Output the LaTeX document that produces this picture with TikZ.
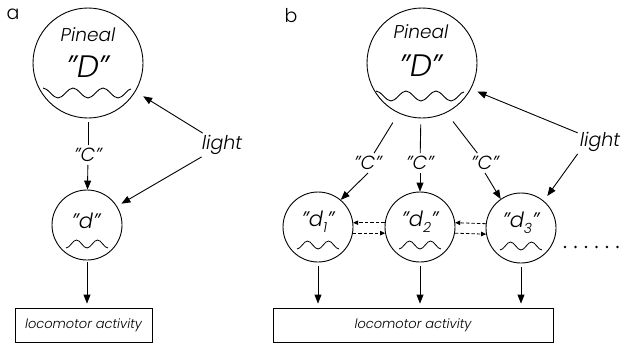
\documentclass[tikz,border=0pt]{standalone}
\usepackage{fontspec}
\setmainfont{Poppins}[UprightFont={* Light}, ItalicFont={* Light Italic}]
\usetikzlibrary{arrows.meta}

\tikzset{
  bigcirc/.style={draw, circle, line width=0.9pt, minimum size=110pt, inner sep=0pt},
  smallcirc/.style={draw, circle, line width=0.9pt, minimum size=70pt, inner sep=0pt},
  lbl/.style={font=\itshape\fontsize{18.5}{18.5}\selectfont, inner sep=1pt},
  bigD/.style={font=\itshape\fontsize{31}{31}\selectfont, inner sep=1pt},
  ctext/.style={font=\itshape\fontsize{19}{19}\selectfont, inner sep=3pt},
  dtext/.style={font=\itshape\fontsize{21}{21}\selectfont, inner sep=1pt},
  lighttext/.style={font=\itshape\fontsize{19}{19}\selectfont, inner sep=2pt},
  boxtext/.style={draw, line width=0.9pt, font=\itshape\fontsize{13}{13}\selectfont, inner sep=0pt},
  panel/.style={font=\fontsize{19}{19}\selectfont, inner sep=0pt},
  arr/.style={line width=0.9pt, -{Triangle[length=9pt,width=7pt]}},
  plain/.style={line width=0.9pt},
  darr/.style={line width=0.8pt, dash pattern=on 3.5pt off 2pt, -{Triangle[length=5pt,width=4.5pt]}},
  bigwave/.pic={\draw[line width=0.9pt] (-45,-5) cos (-37.5,0) sin (-30,5) cos (-22.5,0) sin (-15,-5)
      cos (-7.5,0) sin (0,5) cos (7.5,0) sin (15,-5) cos (22.5,0) sin (30,5) cos (37.5,0) sin (43,-4);},
  smallwave/.pic={\draw[line width=0.8pt] (-21,4) cos (-15.75,0) sin (-10.5,-4) cos (-5.25,0) sin (0,4)
      cos (5.25,0) sin (10.5,-4) cos (15.75,0) sin (21,4);}
}
% letter d with a lowered index, followed by the closing quote marks
\newcommand{\dsub}[1]{d\raisebox{-6pt}{\fontsize{14}{14}\selectfont #1}''}

\begin{document}
\begin{tikzpicture}[x=1pt, y=-1pt]
\useasboundingbox (0,0) rectangle (621,346);

% ---------- panel a ----------
\node[panel] (pa) at (13,14) {a};
\node[bigcirc] (Da) at (88,63) {};
\node[lbl] (Pa) at (88,35) {Pineal};
\node[bigD] (DDa) at (88,67) {''D''};
\pic at (88,93) {bigwave};

\node[ctext] (Ca) at (88,155) {''C''};
\node[smallcirc] (da) at (87,225) {};
\node[dtext] (dta) at (86,221) {''d''};
\pic at (87,244) {smallwave};

\node[lighttext] (la) at (222,145) {light};
\node[boxtext, minimum width=137pt, minimum height=34pt] (boxa) at (83.5,325) {locomotor activity};

\draw[plain, shorten <=4pt] (Da) -- (Ca);
\draw[arr] (Ca) -- (da);
\draw[arr, shorten >=9pt] (la) -- (Da.-31);
\draw[arr, shorten >=5pt] (la) -- (da.32);
\draw[arr, shorten <=2pt, shorten >=4pt] (da) -- (da |- boxa.north);

% ---------- panel b ----------
\node[panel] (pb) at (291,16) {b};
\node[bigcirc] (Db) at (422,63) {};
\node[lbl] (Pb) at (421,32) {Pineal};
\node[bigD] (DDb) at (421,66) {''D''};
\pic at (421,96) {bigwave};

\node[ctext] (Cb1) at (368,163) {''C''};
\node[ctext] (Cb2) at (420,163) {''C''};
\node[ctext] (Cb3) at (485,163) {''C''};

\node[smallcirc] (d1) at (318,227) {};
\node[smallcirc] (d2) at (420,227) {};
\node[smallcirc] (d3) at (521,228) {};
\node[dtext] (t1) at (318,222) {''\dsub{1}};
\node[dtext] (t2) at (420,222) {''\dsub{2}};
\node[dtext] (t3) at (521,223) {''\dsub{3}};
\pic at (318,245) {smallwave};
\pic at (420,245) {smallwave};
\pic at (521,246) {smallwave};

\node[lighttext] (lb) at (600,142) {light};
\node[boxtext, minimum width=280pt, minimum height=34pt] (boxb) at (413,325) {locomotor activity};

\draw[plain, shorten <=11pt] (Db.245) -- (Cb1);
\draw[plain, shorten <=6pt] (Db) -- (Cb2);
\draw[plain, shorten <=11pt] (Db.296) -- (Cb3);
\draw[arr] (Cb1.south) -- (d1.50);
\draw[arr] (Cb2) -- (d2);
\draw[arr] (Cb3.south) -- (d3.125);

\draw[arr, shorten >=7pt] (lb) -- (Db.-28);
\draw[arr, shorten >=6pt] (lb.south west) -- (d3.50);

\draw[darr] (d2.173) -- (d1.7);
\draw[darr] (d1.-10) -- (d2.190);
\draw[darr] (d3.173) -- (d2.7);
\draw[darr] (d2.-10) -- (d3.190);

\draw[arr, shorten <=4pt, shorten >=4pt] (d1) -- (d1 |- boxb.north);
\draw[arr, shorten <=4pt, shorten >=4pt] (d2) -- (d2 |- boxb.north);
\draw[arr, shorten <=4pt, shorten >=4pt] (d3) -- (d3 |- boxb.north);

% continuation dots
\foreach \i in {0,...,5} \fill (565+10.5*\i,247) circle (1.3pt);
\end{tikzpicture}
\end{document}
